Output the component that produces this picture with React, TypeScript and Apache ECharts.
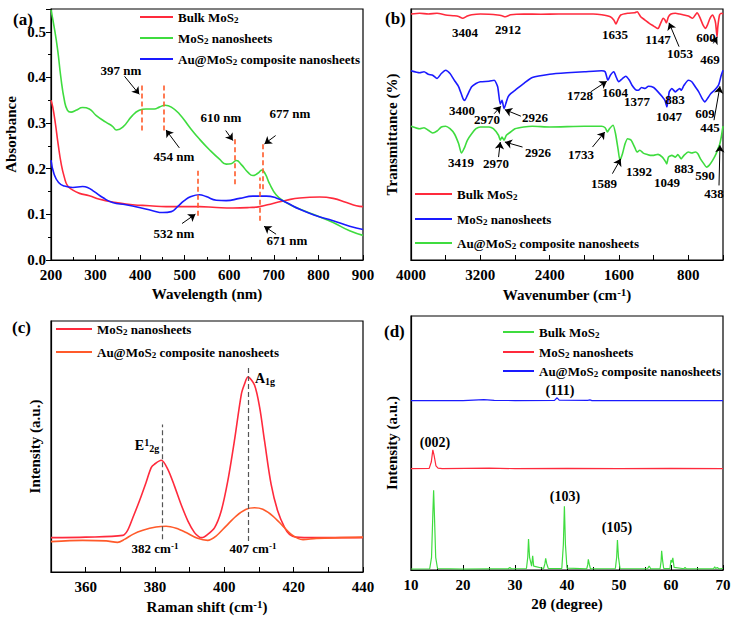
import React, { useEffect, useRef } from 'react';
import * as echarts from 'echarts';

const FONT = "Liberation Serif, Times New Roman, serif";

// ---------- Panel (a) UV-vis ----------
const uvBulk = [[200,0.35],[204,0.335],[210,0.298],[216,0.254],[223,0.21],[230,0.181],[237,0.163],[249,0.153],[264,0.146],[286,0.141],[309,0.133],[346,0.126],[383,0.121],[421,0.119],[458,0.117],[496,0.117],[533,0.117],[571,0.115],[608,0.114],[645,0.115],[668,0.117],[698,0.124],[728,0.131],[758,0.136],[803,0.138],[833,0.135],[863,0.126],[885,0.119],[900,0.117]];
const uvNano = [[200,0.548],[207,0.511],[215,0.46],[222,0.401],[230,0.35],[237,0.328],[245,0.324],[256,0.328],[271,0.334],[286,0.331],[301,0.317],[323,0.302],[338,0.293],[347,0.285],[361,0.291],[383,0.317],[398,0.328],[413,0.331],[432,0.331],[443,0.335],[456,0.339],[470,0.335],[488,0.32],[511,0.291],[533,0.265],[556,0.241],[578,0.221],[593,0.21],[604,0.211],[616,0.218],[627,0.209],[642,0.192],[653,0.185],[664,0.19],[673,0.197],[681,0.188],[690,0.168],[705,0.143],[724,0.128],[750,0.115],[788,0.1],[833,0.082],[870,0.064],[900,0.054]];
const uvAu = [[200,0.219],[207,0.188],[217,0.17],[230,0.162],[249,0.159],[271,0.161],[282,0.159],[297,0.15],[316,0.137],[338,0.126],[368,0.121],[398,0.115],[428,0.108],[451,0.104],[470,0.106],[484,0.117],[499,0.13],[514,0.139],[533,0.143],[548,0.139],[571,0.131],[593,0.13],[623,0.135],[653,0.14],[683,0.14],[705,0.136],[728,0.126],[758,0.111],[795,0.097],[833,0.086],[870,0.074],[900,0.067]];
const uvDashes = [[[403,0.284],[403,0.383]],[[454,0.284],[454,0.383]],[[612,0.166],[612,0.265]],[[675,0.155],[675,0.254]],[[529,0.097],[529,0.196]],[[669,0.086],[669,0.181]]];
const uvArrows = [[[365,0.4025],[398,0.363]],[[488,0.2456],[458,0.285]],[[592,0.2837],[608,0.2617]],[[704,0.2727],[679,0.2544]],[[494,0.0799],[524,0.1004]],[[705,0.0565],[678,0.074]]];
const uvLabels = [["397 nm",121,70],["454 nm",174,156],["610 nm",221,117],["677 nm",290,113],["532 nm",174,233],["671 nm",287,240]];

// ---------- Panel (b) FTIR ----------
const irBulk = [[4000,98.0],[3900,98.3],[3800,98.0],[3700,98.3],[3600,97.6],[3500,97.3],[3450,97.0],[3404,96.3],[3350,97.2],[3300,97.7],[3200,98.0],[3100,97.9],[3000,97.6],[2950,97.3],[2912,96.9],[2850,97.7],[2700,98.0],[2500,97.9],[2300,98.0],[2100,98.0],[1900,98.0],[1800,97.7],[1700,96.9],[1660,95.6],[1635,94.0],[1610,95.9],[1580,97.6],[1500,98.3],[1420,98.5],[1390,98.9],[1350,96.9],[1300,95.6],[1250,94.3],[1200,93.2],[1160,92.3],[1147,92.3],[1120,94.3],[1090,96.3],[1070,95.6],[1053,94.5],[1030,96.9],[1000,98.0],[950,98.3],[900,98.0],[850,97.6],[800,97.2],[750,96.3],[720,97.6],[700,98.5],[670,96.9],[630,93.6],[600,92.3],[580,93.6],[550,96.3],[520,97.6],[500,96.3],[485,94.3],[469,88.9],[460,92.9],[440,97.6],[420,98.3],[400,98.0]];
const irNano = [[4000,75.4],[3900,74.6],[3850,75.0],[3800,74.0],[3750,73.6],[3700,72.3],[3650,74.3],[3600,75.6],[3550,74.3],[3500,71.6],[3450,69.0],[3400,64.3],[3380,63.6],[3350,65.6],[3300,69.0],[3250,70.3],[3200,71.0],[3100,71.2],[3040,71.6],[3000,69.0],[2970,62.1],[2950,63.6],[2926,60.3],[2900,63.0],[2880,65.0],[2850,66.3],[2800,67.6],[2700,70.3],[2600,72.7],[2400,74.0],[2200,74.6],[2000,75.0],[1800,75.4],[1760,75.0],[1728,71.6],[1700,73.6],[1660,75.0],[1630,72.7],[1604,71.0],[1560,72.3],[1522,73.2],[1480,71.6],[1450,69.6],[1410,67.9],[1377,67.6],[1340,68.7],[1300,68.3],[1260,69.2],[1200,68.7],[1150,67.0],[1100,65.0],[1070,63.6],[1047,61.0],[1020,67.0],[990,68.3],[950,67.0],[900,68.3],[883,67.6],[850,69.6],[800,71.6],[760,71.0],[720,69.0],[680,67.0],[640,64.3],[609,63.0],[580,64.3],[540,66.3],[500,67.6],[460,69.2],[445,70.3],[420,73.6],[400,75.6]];
const irAu = [[4000,53.3],[3900,52.3],[3850,52.7],[3800,51.7],[3750,50.6],[3700,51.4],[3650,53.0],[3600,53.3],[3550,52.3],[3500,50.3],[3450,46.3],[3419,42.6],[3380,45.0],[3350,47.7],[3300,50.3],[3250,52.3],[3200,53.0],[3100,53.0],[3050,52.3],[2990,49.7],[2970,47.7],[2950,49.0],[2926,47.7],[2900,49.7],[2850,51.0],[2800,52.3],[2700,53.0],[2600,53.3],[2400,53.0],[2000,53.3],[1800,53.3],[1760,52.7],[1733,51.0],[1710,52.3],[1668,53.7],[1640,50.3],[1610,44.0],[1589,39.7],[1560,42.3],[1530,46.3],[1500,48.3],[1460,47.7],[1420,45.0],[1392,43.0],[1360,43.7],[1320,42.6],[1280,42.1],[1240,41.7],[1200,41.7],[1150,42.1],[1100,41.0],[1060,39.0],[1049,38.3],[1030,41.0],[990,41.7],[950,41.0],[920,42.0],[883,40.3],[850,41.7],[800,43.0],[760,42.6],[720,43.0],[690,42.3],[660,40.3],[620,38.3],[590,37.0],[560,37.7],[520,39.7],[480,42.3],[450,45.0],[438,46.1],[420,49.0],[400,53.3]];
const irArrows = [[[907,85.0],[1023,94.5]],[[512,86.3],[466,88.9]],[[3040,58.3],[2963,61.25]],[[2732,57.3],[2917,59.9]],[[1926,67.0],[1741,71.2]],[[504,55.7],[435,69.2]],[[2990,41.0],[2970,47.0]],[[2713,45.0],[2917,47.0]],[[1906,45.0],[1764,51.0]],[[1676,34.4],[1580,40.3]],[[446,29.7],[435,45.7]]];
const irLabels = [["3404",465,32],["2912",508,29],["1635",615,34],["1147",658,39],["1053",680,53],["600",706,37],["469",710,59],
  ["3400",462,110],["2970",487,119],["2926",535,117],["1728",580,95],["1604",615,92],["1377",637,101],["883",675,99],["1047",669,116],["609",705,113],["445",710,127],
  ["3419",461,162],["2970",496,163],["2926",538,152],["1733",581,154],["1589",604,183],["1392",639,171],["1049",667,182],["883",684,168],["590",705,175],["438",714,193]];

// ---------- Panel (c) Raman ----------
const ramanNano = [[350,13.7],[360,13.9],[370.7,14.6],[372.1,16.6],[373.6,21.6],[375.5,28.3],[377.4,35.6],[378.9,41.6],[379.8,42.9],[381.8,44.5],[383.7,40.9],[385.6,34.3],[387.5,27.0],[389.5,20.3],[391.4,15.7],[392.8,13.9],[393.5,13.7],[395.2,15.0],[397.2,17.7],[399.1,24.3],[401,36.3],[402.9,52.2],[404.9,70.8],[405.8,74.8],[406.8,77.7],[408.7,74.5],[410.2,65.5],[411.6,52.2],[413.5,34.9],[415.4,24.3],[417.4,17.7],[418.8,15.0],[420.7,13.9],[426.5,13.7],[440,13.7]];
const ramanAu = [[350,12.1],[359.1,12.6],[365.9,12.4],[369.2,11.8],[371.2,13.0],[373.6,15.0],[376.5,16.6],[380.3,17.9],[383.2,18.2],[386.1,17.4],[389,15.7],[392.3,13.4],[395.2,12.6],[397.6,14.3],[400.5,18.3],[403.4,22.3],[406.3,25.0],[408.7,25.6],[411.1,25.0],[414,22.3],[416.9,18.3],[419.3,15.0],[421.2,13.4],[422.7,12.9],[426.5,13.4],[440,13.9]];
const ramanDashes = [[[382,13.0],[382,58.8]],[[407,12.4],[407,81.4]]];

// ---------- Panel (d) XRD ----------
const xrdBulk = [[10,0.4],[13.6,0.5],[13.95,5],[14.2,22],[14.35,31.4],[14.5,22],[14.75,5],[15.1,0.6],[20,0.4],[25,0.5],[28.7,0.5],[29.0,1.0],[29.3,0.5],[32.2,0.6],[32.45,5],[32.6,12.2],[32.8,5],[33.2,1.5],[33.4,5.6],[33.6,1.5],[35.5,0.6],[35.75,2.5],[35.9,4.6],[36.1,2.5],[36.4,0.6],[39.0,0.6],[39.3,10],[39.5,25.1],[39.7,10],[40.0,0.7],[43.8,0.5],[44.0,2.2],[44.1,4.2],[44.3,2.2],[44.5,0.5],[49.3,0.6],[49.55,5],[49.7,11.8],[49.9,5],[50.2,0.6],[55.5,0.5],[55.8,1.6],[56.1,0.5],[57.9,0.5],[58.1,3.5],[58.2,7.6],[58.4,3.5],[58.6,0.6],[59.8,0.6],[60.0,3.9],[60.2,3.0],[60.35,4.8],[60.6,1.0],[62.5,0.5],[62.7,1.0],[62.9,0.5],[68.2,0.5],[68.4,1.3],[68.6,0.6],[68.9,1.0],[69.2,0.5],[70,0.6]];
const xrdNano = [[10,39.9],[13.5,40.0],[13.9,42.5],[14.2,47.3],[14.45,45],[14.8,41],[15.2,40.1],[16,39.9],[25,40.1],[30,39.9],[40,40.0],[50,39.9],[60,40.0],[70,39.9]];
const xrdAu = [[10,66.7],[20,66.7],[22,66.9],[24,67.1],[26,66.8],[30,66.7],[37.6,66.8],[38.1,67.8],[38.5,66.9],[44.0,66.8],[44.4,67.0],[44.8,66.7],[60,66.7],[70,66.7]];
const xrdLabels = [["(111)",560,390],["(002)",435,442],["(103)",565,496],["(105)",617,527]];

const RED = '#ff2a3c';
const GREEN = '#3fdc3f';
const BLUE = '#1a1aff';
const ORANGE = '#ff5a2a';

const rich = (fs: number) => ({
  b: { fontSize: fs, fontWeight: 'bold', fontFamily: FONT, color: '#000' },
  sub: { fontSize: Math.round(fs * 0.7), fontWeight: 'bold', fontFamily: FONT, color: '#000', verticalAlign: 'bottom', padding: [Math.round(fs * 0.4), 0, 0, 0] },
  sup: { fontSize: Math.round(fs * 0.7), fontWeight: 'bold', fontFamily: FONT, color: '#000', verticalAlign: 'top', padding: [0, 0, Math.round(fs * 0.4), 0] },
});

const txt = (text: string, x: number, y: number, fs: number, align = 'center') => ({
  type: 'text', x, y, z: 100,
  style: { text, rich: rich(fs), fontSize: fs, fontWeight: 'bold', fontFamily: FONT, fill: '#000',
    align, verticalAlign: 'middle', textAlign: align, textVerticalAlign: 'middle' },
});

const legendItem = (x1: number, x2: number, y: number, color: string, text: string, fs = 13) => [
  { type: 'line', z: 100, shape: { x1, y1: y, x2, y2: y }, style: { stroke: color, lineWidth: 2 } },
  txt(text, x2 + 5, y, fs, 'left'),
];

const axisLabelStyle = { fontSize: 15, fontWeight: 'bold', fontFamily: FONT, color: '#000' };
const nameStyle = (fs = 15) => ({ fontSize: fs, fontWeight: 'bold', fontFamily: FONT, color: '#000', rich: rich(fs) });

const lineSeries = (name: string, data: number[][], color: string, idx: number, smooth: any = true, extra: any = {}) => ({
  name, type: 'line', data, xAxisIndex: idx, yAxisIndex: idx, showSymbol: false, symbol: 'none', smooth,
  lineStyle: { color, width: 1.6 }, itemStyle: { color }, z: 3, ...extra,
});

const mkLines = (segs: number[][][], style: any, symbol: any) => ({
  silent: true, symbol, symbolSize: 7, label: { show: false }, lineStyle: style,
  data: segs.map(([a, b]) => [{ coord: a }, { coord: b }]),
});

const baseX = (idx: number, extra: any) => ({
  gridIndex: idx, type: 'value', splitLine: { show: false },
  axisLine: { show: true, onZero: false, lineStyle: { color: '#000', width: 1.2 } },
  axisTick: { show: true, inside: true, length: 5, lineStyle: { color: '#000' } },
  axisLabel: { ...axisLabelStyle, margin: 7 },
  nameLocation: 'middle', nameTextStyle: nameStyle(15), ...extra,
});
const baseY = (idx: number, extra: any) => ({
  gridIndex: idx, type: 'value', splitLine: { show: false },
  axisLine: { show: true, onZero: false, lineStyle: { color: '#000', width: 1.2 } },
  axisTick: { show: false }, axisLabel: { show: false },
  nameLocation: 'middle', nameTextStyle: nameStyle(15), ...extra,
});

const gridStyle = { show: true, borderColor: '#000', borderWidth: 1.2, backgroundColor: 'transparent' };

const option: any = {
  animation: false,
  backgroundColor: '#fff',
  textStyle: { fontFamily: FONT },
  grid: [
    { left: 51, top: 9, width: 312, height: 251, ...gridStyle },
    { left: 411, top: 9, width: 312, height: 251, ...gridStyle },
    { left: 51, top: 321, width: 312, height: 251, ...gridStyle },
    { left: 411, top: 316, width: 312, height: 254, ...gridStyle },
  ],
  xAxis: [
    baseX(0, { min: 200, max: 900, interval: 100, minorTick: { show: true, splitNumber: 2, length: 3, lineStyle: { color: '#000' } },
      name: 'Wavelength (nm)', nameGap: 26 }),
    baseX(1, { min: 400, max: 4000, interval: 400, inverse: true,
      axisLabel: { ...axisLabelStyle, margin: 7, formatter: (v: number) => (v % 800 === 0 ? String(v) : '') },
      name: '{b|Wavenumber (cm}{sup|-1}{b|)}', nameGap: 26 }),
    baseX(2, { min: 350, max: 440, interval: 10,
      axisLabel: { ...axisLabelStyle, margin: 7, formatter: (v: number) => (v % 20 === 0 ? String(v) : '') },
      name: '{b|Raman shift (cm}{sup|-1}{b|)}', nameGap: 26 }),
    baseX(3, { min: 10, max: 70, interval: 10, minorTick: { show: true, splitNumber: 2, length: 3, lineStyle: { color: '#000' } },
      name: '2θ (degree)', nameGap: 26 }),
  ],
  yAxis: [
    baseY(0, { min: 0, max: 0.55, interval: 0.1,
      axisTick: { show: true, inside: false, length: 5, lineStyle: { color: '#000' } },
      minorTick: { show: true, splitNumber: 2, length: 3, lineStyle: { color: '#000' } },
      axisLabel: { show: true, ...axisLabelStyle, margin: 5,
        formatter: (v: number) => (Math.abs(v * 10 - Math.round(v * 10)) < 1e-6 ? v.toFixed(1) : '') },
      name: 'Absorbance', nameGap: 33 }),
    baseY(1, { min: 0, max: 100, name: 'Transmittance (%)', nameGap: 12 }),
    baseY(2, { min: 0, max: 100, name: 'Intensity (a.u.)', nameGap: 9 }),
    baseY(3, { min: 0, max: 100, name: 'Intensity (a.u.)', nameGap: 12 }),
  ],
  series: [
    lineSeries('aBulk', uvBulk, RED, 0, true, {
      markLine: mkLines(uvArrows, { color: '#000', width: 1, type: 'solid' }, ['none', 'arrow']) }),
    lineSeries('aNano', uvNano, GREEN, 0, true, {
      markLine: mkLines(uvDashes, { color: ORANGE, width: 1.6, type: [5, 3] }, ['none', 'none']) }),
    lineSeries('aAu', uvAu, BLUE, 0, true),
    lineSeries('bBulk', irBulk, RED, 1, 0.2, {
      markLine: mkLines(irArrows, { color: '#000', width: 1, type: 'solid' }, ['none', 'arrow']) }),
    lineSeries('bNano', irNano, BLUE, 1, 0.2),
    lineSeries('bAu', irAu, GREEN, 1, 0.2),
    lineSeries('cNano', ramanNano, RED, 2, 0.3, {
      markLine: mkLines(ramanDashes, { color: '#555', width: 1.2, type: [5, 3] }, ['none', 'none']) }),
    lineSeries('cAu', ramanAu, ORANGE, 2, 0.3),
    lineSeries('dBulk', xrdBulk, GREEN, 3, false, { lineStyle: { color: GREEN, width: 1.2 } }),
    lineSeries('dNano', xrdNano, RED, 3, false, { lineStyle: { color: RED, width: 1.2 } }),
    lineSeries('dAu', xrdAu, BLUE, 3, false, { lineStyle: { color: BLUE, width: 1.2 } }),
  ],
  graphic: [
    txt('(a)', 13, 19, 17, 'left'),
    txt('(b)', 385, 18, 17, 'left'),
    txt('(c)', 12, 327, 17, 'left'),
    txt('(d)', 384, 331, 17, 'left'),
    ...legendItem(140, 173, 17, RED, '{b|Bulk MoS}{sub|2}'),
    ...legendItem(140, 173, 38, GREEN, '{b|MoS}{sub|2}{b| nanosheets}'),
    ...legendItem(140, 173, 59, BLUE, '{b|Au@MoS}{sub|2}{b| composite nanosheets}'),
    ...legendItem(415, 452, 194, RED, '{b|Bulk MoS}{sub|2}'),
    ...legendItem(415, 452, 219, BLUE, '{b|MoS}{sub|2}{b| nanosheets}'),
    ...legendItem(415, 452, 243, GREEN, '{b|Au@MoS}{sub|2}{b| composite nanosheets}'),
    ...legendItem(56, 92, 329, RED, '{b|MoS}{sub|2}{b| nanosheets}'),
    ...legendItem(56, 92, 352, ORANGE, '{b|Au@MoS}{sub|2}{b| composite nanosheets}'),
    ...legendItem(503, 534, 332, GREEN, '{b|Bulk MoS}{sub|2}'),
    ...legendItem(503, 534, 352, RED, '{b|MoS}{sub|2}{b| nanosheets}'),
    ...legendItem(503, 534, 371, BLUE, '{b|Au@MoS}{sub|2}{b| composite nanosheets}'),
    ...uvLabels.map(([t, x, y]) => txt('{b|' + t + '}', x as number, y as number, 13)),
    ...irLabels.map(([t, x, y]) => txt('{b|' + t + '}', x as number, y as number, 13)),
    ...xrdLabels.map(([t, x, y]) => txt('{b|' + t + '}', x as number, y as number, 14)),
    txt('{b|E}{sup|1}{sub|2g}', 147, 445, 14),
    txt('{b|A}{sub|1g}', 265, 378, 14),
    txt('{b|382 cm}{sup|-1}', 155, 548, 13),
    txt('{b|407 cm}{sup|-1}', 253, 548, 13),
  ],
};

export default function App() {
  const ref = useRef<HTMLDivElement>(null);
  useEffect(() => {
    const chart = echarts.init(ref.current!, null, { renderer: 'svg' });
    chart.setOption(option);
    return () => chart.dispose();
  }, []);
  return <div ref={ref} style={{ position: 'fixed', left: 0, top: 0, width: 734, height: 617, background: '#fff' }} />;
}
